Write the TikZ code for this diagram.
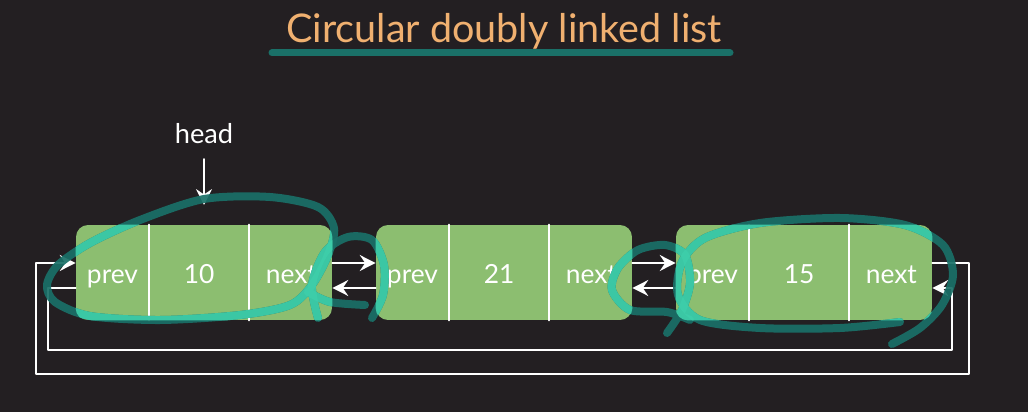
\documentclass[tikz,border=0pt]{standalone}
\usepackage{fontspec}
\setmainfont{Lato}
\usetikzlibrary{arrows.meta,positioning}
\definecolor{bgdark}{RGB}{35,31,34}
\definecolor{cellgreen}{RGB}{140,190,112}
\definecolor{titleorange}{RGB}{240,176,112}
\definecolor{tealdark}{RGB}{26,112,104}
\definecolor{teallight}{RGB}{62,206,170}
\tikzset{
  box/.style={fill=cellgreen, rounded corners=0.24cm, minimum width=5.12cm, minimum height=1.9cm, inner sep=0pt},
  cell/.style={minimum height=1.9cm, inner sep=0pt, text height=12pt, text depth=0pt, text=white, font=\fontsize{15}{17}\selectfont},
  divider/.style={draw=white, line width=1.1pt},
  link/.style={draw=white, line width=1.2pt, -{Stealth[length=9pt,width=9pt,inset=3pt]}},
  scribble/.style={line width=0.16cm, line cap=round, line join=round, opacity=0.92}
}
% hand drawn marks over the list
\newcommand\listmarks[1]{%
  \draw[scribble,#1] plot[smooth cycle] coordinates {(204,199) (270,197) (318,207) (334,228) (328,255) (312,285) (290,305) (240,315) (160,320) (90,316) (55,302) (47,285) (58,265) (90,243) (140,220)};
  \draw[scribble,#1] plot[smooth] coordinates {(318,318) (312,285) (325,252) (348,237) (372,240) (384,265) (383,295) (372,318)};
  \draw[scribble,#1] plot[smooth] coordinates {(308,292) (330,302) (365,305)};
  \draw[scribble,#1] plot[smooth] coordinates {(667,333) (682,310) (690,283) (685,255) (665,245) (638,250) (618,268) (612,290) (630,310) (667,312) (690,320)};
  \draw[scribble,#1] plot[smooth] coordinates {(900,322) (840,328) (760,328) (700,320) (678,295) (682,262) (705,238) (760,223) (840,218) (905,225) (943,245) (953,275) (942,305) (920,328) (892,344)};
}
\begin{document}
\begin{tikzpicture}[x=0.02cm, y=-0.02cm, line join=round, line cap=round]
  \fill[bgdark] (0,0) rectangle (1028,412);
  \useasboundingbox (0,0) rectangle (1028,412);
  % title
  \node[text=titleorange, font=\fontsize{22.5}{26}\selectfont] (title) at (504,31) {Circular doubly linked list};
  \coordinate (ulA) at (272,53);
  \coordinate (ulB) at (730,53);
  \draw[tealdark, line width=0.14cm] (ulA) -- (ulB);
  % the three nodes
  \foreach \i/\x/\v in {1/204/10, 2/504/21, 3/804/15} {
    \node[box] (n\i) at (\x,272.5) {};
    \node[cell, minimum width=1.46cm, anchor=west] (n\i p) at (n\i.west) {prev};
    \node[cell, minimum width=1.98cm, right=0pt of n\i p] (n\i v) {\v};
    \node[cell, minimum width=1.68cm, right=0pt of n\i v] (n\i n) {next};
    \draw[divider] (n\i p.north east) -- (n\i p.south east);
    \draw[divider] (n\i v.north east) -- (n\i v.south east);
  }
  % next and prev links
  \foreach \i/\j in {1/2, 2/3} {
    \draw[link] ([yshift=0.19cm]n\i.east) -- ([yshift=0.19cm]n\j.west);
    \draw[link] ([yshift=-0.31cm]n\j.west) -- ([yshift=-0.31cm]n\i.east);
  }
  % links round the ends
  \coordinate (outR) at (969,374);
  \coordinate (outL) at (36,374);
  \coordinate (inL) at (48,350);
  \coordinate (inR) at (952,350);
  \draw[link] ([yshift=0.19cm]n3.east) -| (outR) -- (outL) |- ([yshift=0.19cm]n1.west);
  \draw[link] ([yshift=-0.31cm]n1.west) -| (inL) -- (inR) |- ([yshift=-0.31cm]n3.east);
  % head pointer
  \node[text=white, font=\fontsize{15.5}{18}\selectfont] (head) at (204,134) {head};
  \coordinate (headtip) at (204,205);
  \draw[link] ([yshift=-5pt]head.south) -- (headtip);
  % marks, lighter where they cross the nodes
  \listmarks{tealdark}
  \begin{scope}
    \clip[rounded corners=0.24cm] (n1.south west) rectangle (n1.north east)
      (n2.south west) rectangle (n2.north east)
      (n3.south west) rectangle (n3.north east);
    \listmarks{teallight}
  \end{scope}
\end{tikzpicture}
\end{document}
